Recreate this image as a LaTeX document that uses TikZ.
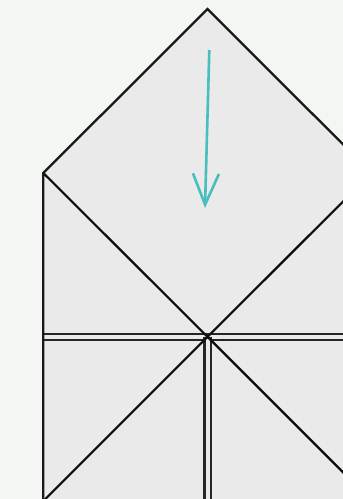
\documentclass[tikz,border=0pt]{standalone}
\usetikzlibrary{arrows.meta}

\definecolor{bgcol}{HTML}{F4F6F4}
\definecolor{papercol}{HTML}{EAEAEA}
\definecolor{arrowcol}{HTML}{48BEBE}

\begin{document}
\begin{tikzpicture}[x=1pt, y=-1pt,
    edge/.style={draw=black!90, line width=2.3pt, line join=miter},
    crease/.style={draw=black!95, line width=2.2pt},
    dblcrease/.style={draw=black!85, line width=2.3pt, double=papercol, double distance=4pt},
    movearrow/.style={draw=arrowcol, line width=2.6pt, -{Straight Barb[length=31pt, width=26pt, line width=2.6pt]}}]
    \useasboundingbox (0,0) rectangle (343,499);
    \clip (0,0) rectangle (343,499);
    \fill[bgcol] (0,0) rectangle (343,499);

    % Points
    \coordinate (c) at (207.5,336.8);
    \coordinate (apex) at (207.5,9);
    \coordinate (tl) at (43.3,173);
    \coordinate (tr) at (371.7,173);
    \coordinate (bl) at (43.3,501);
    \coordinate (br) at (371.7,501);
    \coordinate (ml) at (43.3,336.8);
    \coordinate (mr) at (371.7,336.8);
    \coordinate (mb) at (207.5,501);

    % Paper
    \fill[papercol] (apex) -- (tr) -- (br) -- (bl) -- (tl) -- cycle;

    % Creases
    \draw[dblcrease] (ml) -- (mr);
    \draw[dblcrease] (c) -- (mb);
    \draw[crease] (tl) -- (c) -- (tr);
    \draw[crease] (bl) -- (c) -- (br);

    % Outline
    \draw[edge] (bl) -- (tl) -- (apex) -- (tr);

    % Arrow
    \coordinate (from) at (209.3,50);
    \coordinate (to) at (205,208);
    \draw[movearrow] (from) -- (to);
\end{tikzpicture}
\end{document}
